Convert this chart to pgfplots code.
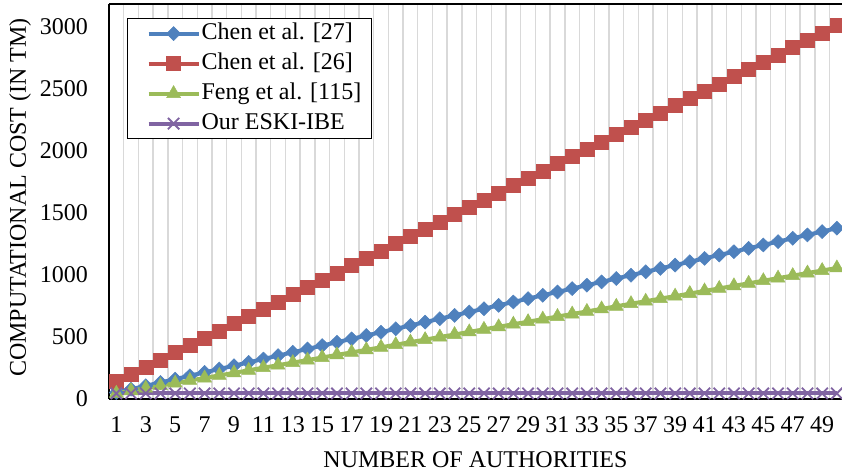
\documentclass[border=0pt]{standalone}
\usepackage{fontspec}
\setmainfont{Liberation Serif}
\usepackage{pgfplots}
\usepackage{pgfplotstable}
\pgfplotsset{compat=1.18}
\definecolor{cblue}{HTML}{4F81BD}
\definecolor{cred}{HTML}{C0504D}
\definecolor{cgreen}{HTML}{9BBB59}
\definecolor{cpurple}{HTML}{8064A2}
\definecolor{cgrid}{HTML}{D9D9D9}
\pgfplotstableread{
n red blue green purple
1 139 52 46 45
2 197 79 66 45
3 256 106 87 45
4 314 133 107 45
5 373 160 128 45
6 431 187 149 45
7 490 214 169 45
8 548 241 190 45
9 607 268 210 45
10 665 295 231 45
11 724 322 252 45
12 782 349 272 45
13 841 376 293 45
14 899 403 313 45
15 958 430 334 45
16 1016 457 355 45
17 1075 484 375 45
18 1133 511 396 45
19 1192 538 416 45
20 1250 565 437 45
21 1309 592 458 45
22 1367 619 478 45
23 1426 646 499 45
24 1484 673 519 45
25 1543 700 540 45
26 1601 727 561 45
27 1660 754 581 45
28 1718 781 602 45
29 1777 808 622 45
30 1835 835 643 45
31 1894 862 664 45
32 1952 889 684 45
33 2011 916 705 45
34 2069 943 725 45
35 2128 970 746 45
36 2186 997 767 45
37 2245 1024 787 45
38 2303 1051 808 45
39 2362 1078 828 45
40 2420 1105 849 45
41 2479 1132 870 45
42 2537 1159 890 45
43 2596 1186 911 45
44 2654 1213 931 45
45 2713 1240 952 45
46 2771 1267 973 45
47 2830 1294 993 45
48 2888 1321 1014 45
49 2947 1348 1034 45
50 3005 1375 1055 45
}\data
\begin{document}
\begin{tikzpicture}
\begin{axis}[
  name=ax, scale only axis, width=733bp, height=395bp,
  xmin=0.5, xmax=50.35, ymin=0, ymax=3180,
  axis x line=box, axis y line=left,
  axis line style={-, line width=1.2bp, black},
  xtick={1,3,...,49}, ytick={0,500,...,3000},
  minor xtick={1.5,2.5,...,49.5}, xminorgrids,
  minor grid style={cgrid, line width=1.4bp},
  major tick length=0pt, minor tick length=0pt,
  font=\fontsize{24bp}{28bp}\selectfont,
  /pgf/number format/assume math mode=true,
  /pgf/number format/1000 sep={},
  scaled y ticks=false,
  yticklabel style={anchor=east, inner sep=0pt, xshift=-21bp},
  xticklabel style={anchor=center, inner sep=0pt, yshift=-26bp},
  xlabel={NUMBER OF AUTHORITIES}, ylabel={COMPUTATIONAL COST (IN TM)},
  every axis x label/.style={at={([yshift=-61bp]axis description cs:0.5,0)}, anchor=center},
  every axis y label/.style={at={([xshift=-89bp]axis description cs:0,0.51)}, rotate=90, anchor=center},
  legend cell align=left,
  legend style={at={([xshift=18bp,yshift=-14bp]axis description cs:0,1)}, anchor=north west,
    draw=black, line width=1.2bp, inner xsep=9bp, inner ysep=2.5bp,
    nodes={inner sep=1bp, text height=17bp, text depth=6bp}, row sep=5bp,
    font=\fontsize{24bp}{28bp}\selectfont},
  legend image code/.code={\path (0bp,0bp); \draw[mark repeat=2, mark phase=2] plot coordinates {(10bp,0bp) (35bp,0bp) (60bp,0bp)};},
]
\addplot[cblue, line width=4bp, mark=diamond*, mark size=7bp, mark options={xscale=1.35, solid, line width=0.5bp}] table[x=n,y=blue]{\data};
\addlegendentry{Chen et al. [27]}
\addplot[cred, line width=4bp, mark=square*, mark size=7bp, mark options={solid, line width=0.5bp}] table[x=n,y=red]{\data};
\addlegendentry{Chen et al. [26]}
\addplot[cgreen, line width=4bp, mark=triangle*, mark size=8bp, mark options={solid, line width=0.5bp}] table[x=n,y=green]{\data};
\addlegendentry{Feng et al. [115]}
\addplot[cpurple, line width=4bp, mark=x, mark size=8bp, mark options={solid, line width=1.8bp}] table[x=n,y=purple]{\data};
\addlegendentry{Our ESKI-IBE}
\end{axis}
\pgfresetboundingbox
\path[use as bounding box] ([xshift=-109bp,yshift=-76bp]ax.south west) rectangle ([yshift=4bp]ax.north east);
\end{tikzpicture}
\end{document}
